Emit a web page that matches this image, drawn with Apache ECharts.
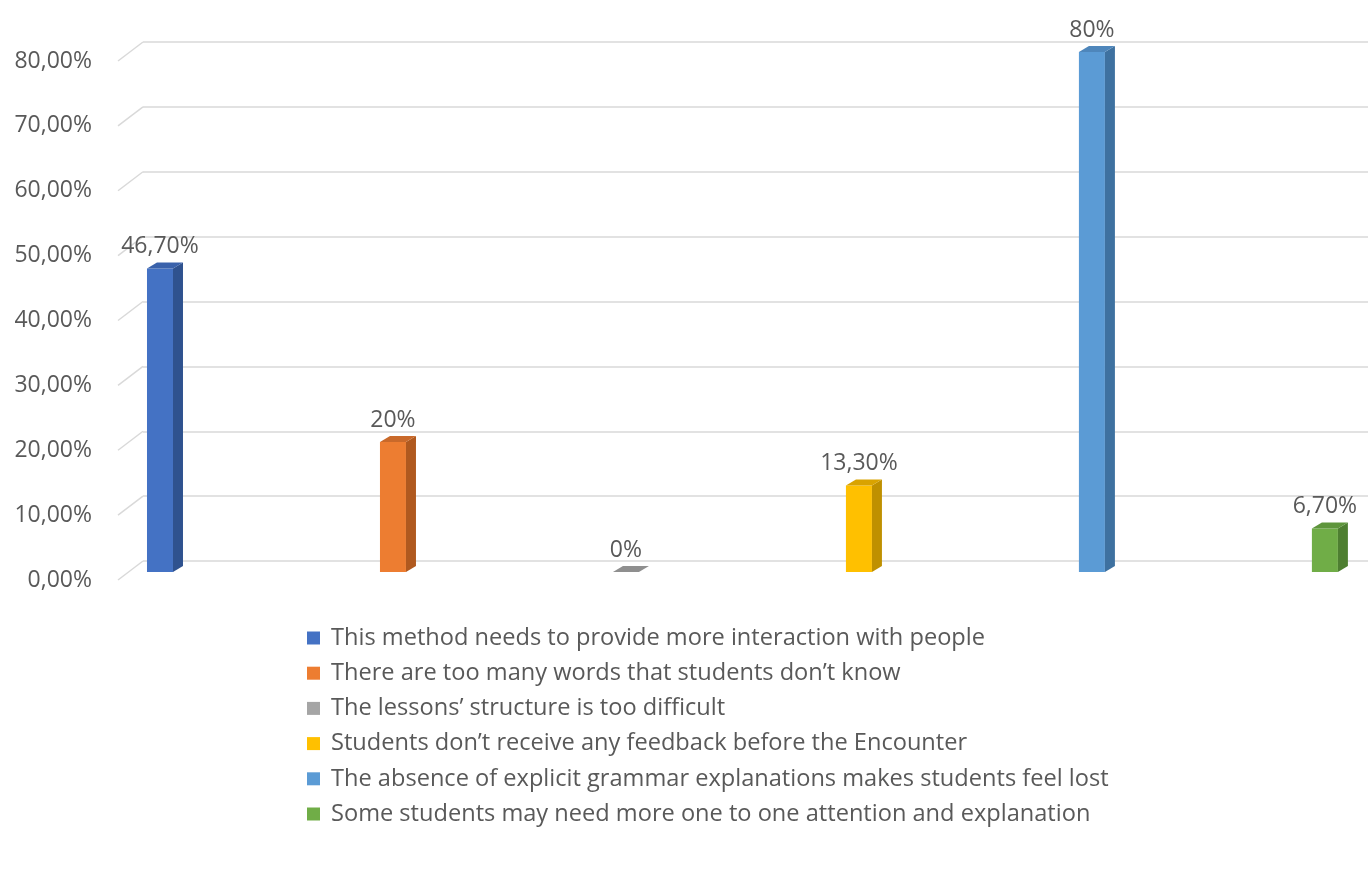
<!DOCTYPE html>
<html>
<head>
<meta charset="utf-8">
<script src="https://cdn.jsdelivr.net/npm/echarts@6/dist/echarts.min.js"></script>
<style>
html,body{margin:0;padding:0;background:#ffffff;}
#chart{width:1368px;height:882px;}
</style>
</head>
<body>
<div id="chart"></div>
<script>
// ---- data ----
const categories = ['Interaction', 'Vocabulary', 'Structure', 'Feedback', 'Grammar', 'Attention'];
const seriesNames = [
  'This method needs to provide more interaction with people',
  'There are too many words that students don\u2019t know',
  'The lessons\u2019 structure is too difficult',
  'Students don\u2019t receive any feedback before the Encounter',
  'The absence of explicit grammar explanations makes students feel lost',
  'Some students may need more one to one attention and explanation'
];
const values = [46.7, 20, 0, 13.3, 80, 6.7];
const valueLabels = ['46,70%', '20%', '0%', '13,30%', '80%', '6,70%'];
const tickValues = [0, 10, 20, 30, 40, 50, 60, 70, 80];
const tickLabels = ['0,00%', '10,00%', '20,00%', '30,00%', '40,00%', '50,00%', '60,00%', '70,00%', '80,00%'];
const frontColors = ['#4472C4', '#ED7D31', '#A5A5A5', '#FFC000', '#5B9BD5', '#70AD47'];
const sideColors = ['#2F528F', '#B0591F', '#7C7C7C', '#BF9000', '#3E71A0', '#4E7F31'];
const topColors = ['#3A62AB', '#C9692A', '#8F8F8F', '#D9A300', '#4E86BB', '#5E953C'];

const FONT = "'Open Sans', sans-serif";
const TEXT = '#595959';
const GRID = '#d9d9d9';

const chart = echarts.init(document.getElementById('chart'));

function barRenderer(idx) {
  return function (params, api) {
    const base = api.coord([api.value(0), 0]);
    const topP = api.coord([api.value(0), api.value(1)]);
    const cx = base[0];
    const w = 26, dx = 10, dy = 6;
    const xl = cx - w / 2, xr = cx + w / 2;
    const y0 = base[1], y1 = topP[1];
    const children = [];
    if (y0 - y1 > 0) {
      children.push({ type: 'rect', shape: { x: xl, y: y1, width: w, height: y0 - y1 },
        style: { fill: frontColors[idx] } });
      children.push({ type: 'polygon', shape: { points: [[xr, y1], [xr + dx, y1 - dy], [xr + dx, y0 - dy], [xr, y0]] },
        style: { fill: sideColors[idx] } });
    }
    children.push({ type: 'polygon', shape: { points: [[xl, y1], [xl + dx, y1 - dy], [xr + dx, y1 - dy], [xr, y1]] },
      style: { fill: topColors[idx] } });
    children.push({ type: 'text', style: { text: valueLabels[idx], x: cx, y: y1 - 22,
      align: 'center', verticalAlign: 'middle', fill: TEXT, font: '23px ' + FONT } });
    return { type: 'group', children: children };
  };
}

// each series sits at its position index along a value x-axis (0..5)
const barSeries = seriesNames.map((name, i) => ({
  name: name,
  type: 'custom',
  xAxisIndex: 1,
  yAxisIndex: 1,
  itemStyle: { color: frontColors[i] },
  renderItem: barRenderer(i),
  data: [[categories.indexOf(categories[i]), values[i]]],
  z: 5
}));

const floorSeries = {
  name: 'floor',
  type: 'custom',
  xAxisIndex: 0,
  yAxisIndex: 0,
  silent: true,
  renderItem: function (params, api) {
    const p = api.coord([0, api.value(0)]);
    return { type: 'line', shape: { x1: p[0] - 25, y1: p[1] + 19, x2: p[0], y2: p[1] },
      style: { stroke: GRID, lineWidth: 1.5 } };
  },
  data: tickValues.map(v => [v]),
  encode: { y: 0 },
  z: 1
};

chart.setOption({
  backgroundColor: '#ffffff',
  animation: false,
  textStyle: { fontFamily: FONT },
  grid: [
    { left: 143, right: 0, top: 42, height: 519 },
    { left: 43.5, right: 0, top: 52, height: 520 },
    { left: 96, width: 1, top: 61, height: 519 }
  ],
  xAxis: [
    { gridIndex: 0, type: 'value', min: 0, max: 1, show: false },
    { gridIndex: 1, type: 'value', min: -0.5, max: 5.185, show: false, splitLine: { show: false } },
    { gridIndex: 2, type: 'value', min: 0, max: 1, show: false }
  ],
  yAxis: [
    { gridIndex: 0, type: 'value', min: 0, max: 80, interval: 10,
      axisLine: { show: false }, axisTick: { show: false }, axisLabel: { show: false },
      splitLine: { show: true, lineStyle: { color: GRID, width: 1.5 } } },
    { gridIndex: 1, type: 'value', min: 0, max: 80, interval: 10, show: false, splitLine: { show: false } },
    { gridIndex: 2, type: 'value', min: 0, max: 80, interval: 10,
      axisLine: { show: false }, axisTick: { show: false }, splitLine: { show: false },
      axisLabel: { show: true, margin: 4, color: TEXT, fontSize: 23, fontFamily: FONT,
        formatter: v => tickLabels[tickValues.indexOf(v)] } }
  ],
  legend: {
    orient: 'vertical',
    left: 307,
    top: 626,
    padding: 0,
    itemWidth: 13,
    itemHeight: 13,
    itemGap: 11.2,
    icon: 'rect',
    data: seriesNames,
    selectedMode: false,
    textStyle: { color: TEXT, fontSize: 23.6, lineHeight: 24, fontFamily: FONT, padding: [0, 0, 0, 6] }
  },
  series: [floorSeries].concat(barSeries)
});
</script>
</body>
</html>
